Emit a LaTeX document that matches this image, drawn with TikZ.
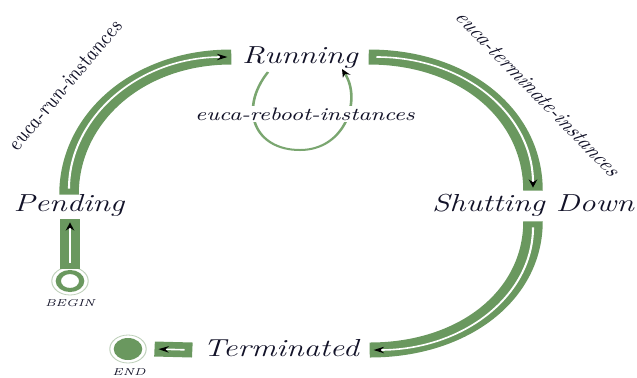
\documentclass[tikz,border=0pt]{standalone}
\usetikzlibrary{arrows.meta}
\definecolor{bandgreen}{RGB}{106,152,95}
\definecolor{loopgreen}{RGB}{122,166,112}
\definecolor{ringgrey}{RGB}{190,208,186}
\definecolor{inkc}{RGB}{18,18,40}
\begin{document}
\begin{tikzpicture}[x=0.5pt,y=-0.5pt]
\useasboundingbox (0,0) rectangle (637,377);
\begin{scope}[x=0.384615pt,y=-0.5pt,transform canvas={xscale=1.3}]
\tikzset{
  state/.style={font=\fontsize{12.3}{15}\selectfont\itshape, text=inkc, inner xsep=4pt, inner ysep=0pt, text height=9pt, text depth=3pt},
  cmd/.style={font=\small\itshape, text=inkc, inner sep=1pt},
  tinylabel/.style={font=\tiny\itshape, text=inkc, inner sep=0pt},
  band/.style={draw=bandgreen, line width=7.5pt,
    postaction={draw=white, line width=0.8pt, shorten <=3pt, shorten >=1.5pt,
      -{Stealth[black,length=4pt,width=3.2pt]}}},
  reboot/.style={draw=loopgreen, line width=1pt, -{Stealth[black,length=4pt,width=3.2pt]}},
  ring/.style={circle, draw=ringgrey, line width=0.4pt, minimum size=14pt, inner sep=0pt}
}
% states
\node[state] (run)  at (300,57)  {Running};
\node[state] (pend) at (69,205)  {Pending};
\node[state] (shut) at (533,205) {Shutting Down};
\node[state] (term) at (281,350) {Terminated};
% begin / end
\node[ring] (begin) at (70,281) {};
\draw[bandgreen, line width=2pt] (begin.center) circle[radius=4.5pt];
\node[tinylabel] (beginlbl) at (70,303) {BEGIN};
\node[ring] (end) at (128,349) {};
\fill[bandgreen] (end.center) circle[radius=5.5pt];
\node[tinylabel] (endlbl) at (129,372) {END};
% main transitions
\draw[band] ([yshift=-1pt]begin.north) -- ([yshift=-1pt]begin.north |- pend.south);
\draw[band] ([yshift=-1pt]pend.north) .. controls +(0,-76) and +(-94,0) .. (run.west);
\draw[band] (run.east) .. controls +(96,0) and +(0,-76) .. ([yshift=1pt]shut.north);
\draw[band] ([yshift=-2pt]shut.south) .. controls +(0,74) and +(94,0) .. (term.east);
\draw[band] (term.west) -- ([xshift=3pt]end.east);
% reboot loop
\coordinate (rbA) at (268,72);
\coordinate (rbB) at (342,69);
\draw[reboot] (rbA) .. controls (238,110) and (255,150) .. (300,150)
  .. controls (345,150) and (362,100) .. (rbB);
\node[cmd, fill=white] (rebootlbl) at (305,114) {euca-reboot-instances};
% command labels
\node[cmd, rotate=57] (runlbl) at (64,86) {euca-run-instances};
\node[cmd, rotate=-53] (termlbl) at (538,94) {euca-terminate-instances};
\end{scope}
\end{tikzpicture}
\end{document}
